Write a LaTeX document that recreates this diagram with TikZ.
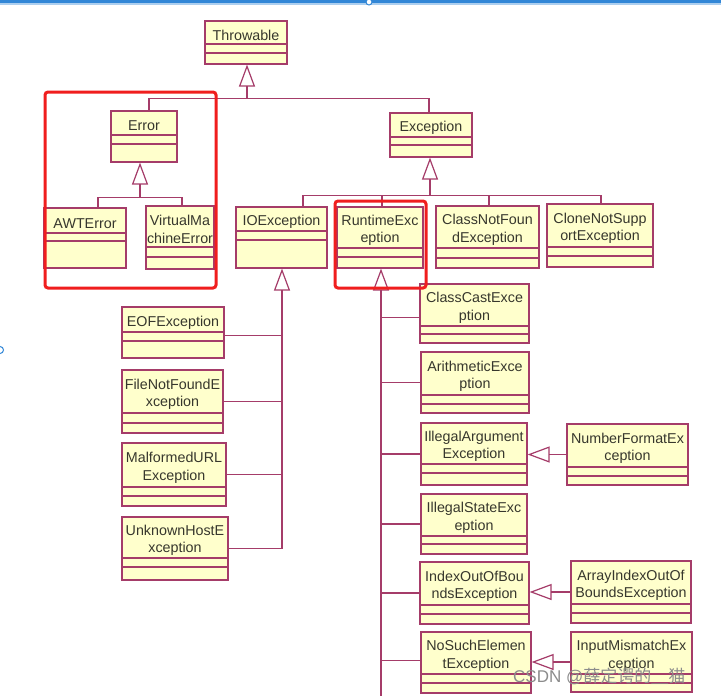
\documentclass[tikz,border=0pt]{standalone}
\usepackage{fontspec}
\setmainfont{Liberation Sans}
\newfontfamily\cjkfont{Noto Sans CJK SC}
\usetikzlibrary{arrows.meta,fit,calc}
\definecolor{bd}{RGB}{165,60,105}
\definecolor{fl}{RGB}{255,255,204}
\definecolor{tx}{RGB}{55,55,45}
\definecolor{rd}{RGB}{240,30,30}
\definecolor{topblue}{RGB}{50,135,215}
\tikzset{
  clsbox/.style={draw=bd, fill=fl, line width=1.2pt, inner sep=0pt},
  clsline/.style={draw=bd, line width=1.2pt},
  clstext/.style={font=\fontsize{14.3}{17.5}\selectfont, text=tx, align=center, inner sep=0pt},
  conn/.style={draw=bd, line width=1.2pt},
  inh/.style={draw=bd, line width=1.2pt, -{Triangle[open, length=22pt, width=16pt, line width=1.2pt]}},
  redframe/.style={draw=rd, line width=3pt, rounded corners=3pt},
}
\newcommand\umlcls[8]{%
  \node[clsbox, fit={(#2,#3) (#4,#5)}] (#1) {};
  \draw[clsline] (#2,#6) -- (#4,#6);
  \draw[clsline] (#2,#7) -- (#4,#7);
  \node[clstext] (#1-t) at ({(#2+#4)/2},{(#3+#6)/2+3}) {#8};
}
\begin{document}
\begin{tikzpicture}[x=1pt,y=-1pt]
\useasboundingbox[fill=white] (0,0) rectangle (721,696);
% top blue border of the screenshot
\fill[topblue] (0,0) rectangle (721,3);
\fill[topblue!40] (0,3) rectangle (721,4.5);
\draw[topblue, line width=1pt, fill=white] (369,2) circle (3);
\draw[topblue, line width=1pt, fill=white] (0,350) circle (3.5);

% classes
\umlcls{throwable}{205}{21}{287}{64}{44}{53}{Throwable}
\umlcls{error}{111}{111}{177}{162}{135}{144}{Error}
\umlcls{awt}{44}{208}{126}{268}{233}{241}{AWTError}
\umlcls{vme}{146}{206}{214}{269}{247}{257}{VirtualMa\\chineError}
\umlcls{exception}{390}{113}{472}{157}{137}{145}{Exception}
\umlcls{ioe}{236}{207}{327}{268}{231}{240}{IOException}
\umlcls{rte}{337}{207}{423}{268}{248}{257}{RuntimeExc\\eption}
\umlcls{cnfe}{436}{206}{539}{268}{248}{258}{ClassNotFoun\\dException}
\umlcls{cnse}{547}{204}{653}{267}{247}{256}{CloneNotSupp\\ortException}
\umlcls{eof}{122}{307}{224}{358}{332}{341}{EOFException}
\umlcls{fnf}{122}{370}{223}{433}{413}{423}{FileNotFoundE\\xception}
\umlcls{murl}{122}{443}{226}{506}{487}{496}{MalformedURL\\Exception}
\umlcls{uhe}{122}{517}{228}{580}{558}{567}{UnknownHostE\\xception}
\umlcls{cce}{420}{284}{529}{343}{326}{334}{ClassCastExce\\ption}
\umlcls{ae}{421}{352}{529}{413}{395}{404}{ArithmeticExce\\ption}
\umlcls{iae}{421}{423}{527}{485}{464}{473}{IllegalArgument\\Exception}
\umlcls{nfe}{567}{424}{688}{485}{467}{476}{NumberFormatEx\\ception}
\umlcls{ise}{421}{494}{527}{554}{536}{544}{IllegalStateExc\\eption}
\umlcls{ioobe}{420}{562}{529}{624}{605}{614}{IndexOutOfBou\\ndsException}
\umlcls{aioobe}{571}{561}{691}{623}{604}{613}{ArrayIndexOutOf\\BoundsException}
\umlcls{nsee}{421}{632}{531}{693}{674}{683}{NoSuchElemen\\tException}
\umlcls{ime}{571}{632}{692}{692}{674}{683}{InputMismatchEx\\ception}

% bus coordinates
\coordinate (tbus) at ($(throwable.south)+(1,34)$);
\coordinate (ebus) at ($(error.south)+(-4,35)$);
\coordinate (xbus) at ($(exception.south)+(-1,38)$);
\coordinate (iobot) at ($(ioe.south)+(0.5,280)$);
\coordinate (rbot) at ($(rte.south)+(1,432)$);

% Throwable hierarchy
\draw[inh] (tbus) -- ($(throwable.south)+(1,0)$);
\draw[conn] ([xshift=5pt]error.north) |- (tbus) -| ([xshift=-2pt]exception.north);

% Error hierarchy
\draw[inh] (ebus) -- ([xshift=-4pt]error.south);
\draw[conn] ([xshift=13pt]awt.north) |- (ebus) -| ([xshift=2pt]vme.north);

% Exception hierarchy
\draw[inh] (xbus) -- ([xshift=-1pt]exception.south);
\draw[conn] ([xshift=21.5pt]ioe.north) |- (xbus) -| ([xshift=1pt]cnse.north);
\draw[conn] ([xshift=2pt]rte.north) -- ([xshift=2pt]rte.north |- xbus);
\draw[conn] ([xshift=1.5pt]cnfe.north) -- ([xshift=1.5pt]cnfe.north |- xbus);

% IOException hierarchy
\draw[inh] (iobot) -- ([xshift=0.5pt]ioe.south);
\draw[conn] ([yshift=-3pt]eof.east) -- ([yshift=-3pt]eof.east -| iobot);
\draw[conn] (fnf.east) -- (fnf.east -| iobot);
\draw[conn] (murl.east) -- (murl.east -| iobot);
\draw[conn] (uhe.east) -- (uhe.east -| iobot);

% RuntimeException hierarchy
\draw[inh] (rbot) -- ([xshift=1pt]rte.south);
\draw[conn] ([yshift=-4pt]cce.west) -- ([yshift=-4pt]cce.west -| rbot);
\draw[conn] (ae.west) -- (ae.west -| rbot);
\draw[conn] (iae.west) -- (iae.west -| rbot);
\draw[conn] (ise.west) -- (ise.west -| rbot);
\draw[conn] (ioobe.west) -- (ioobe.west -| rbot);
\draw[conn] ([yshift=2pt]nsee.west) -- ([yshift=2pt]nsee.west -| rbot);

% side inheritances
\draw[inh] (nfe.west) -- (nfe.west -| iae.east);
\draw[inh] (aioobe.west) -- (aioobe.west -| ioobe.east);
\draw[inh] (ime.west) -- (ime.west -| nsee.east);

% red highlight frames
\draw[redframe] (45,92) rectangle (216,288);
\draw[redframe] (335,201) rectangle (426,288);

% watermark
\node[anchor=west, inner sep=0pt, text=black!45, font=\fontsize{17}{17}\selectfont] (wm) at (513,676) {CSDN @{\cjkfont 薛定谔的＿猫}};
\end{tikzpicture}
\end{document}
